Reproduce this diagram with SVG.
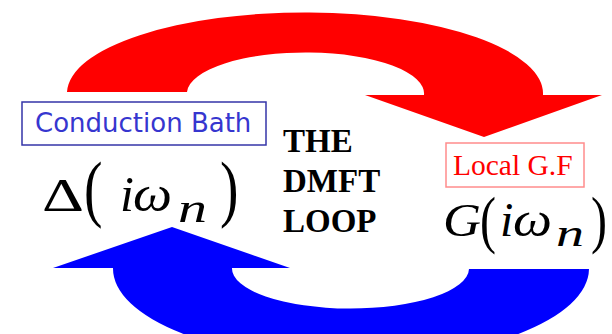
<svg xmlns="http://www.w3.org/2000/svg" width="612" height="334" viewBox="0 0 612 334">
<defs>
<style>
.box{fill:#ffffff;stroke-width:1.5}
.math{font-family:"Liberation Serif","Times New Roman",serif;fill:#000}
.it{font-style:italic}
.title{font-family:"Liberation Serif","Times New Roman",serif;font-weight:bold;font-size:33px;fill:#000}
</style>
</defs>
<rect width="612" height="334" fill="#ffffff"/>
<g id="connectors">
<path id="red-arrow" fill="#ff0000" d="M67,92 A238,81 0 0 1 543,95 L602,95 L484,137 L365,95 L424,95 A118.5,41 0 0 0 187,92 Z"/>
<path id="blue-arrow" fill="#0000ff" d="M589,269 A238,92 0 0 1 113,268 L53,268 L172,227 L290,268 L232,268 A118.5,40 0 0 0 469,269 Z"/>
</g>
<g id="conduction-bath">
<rect class="box" x="22" y="102" width="244" height="43" stroke="#3535a8"/>
<text x="35" y="132" font-family="'DejaVu Sans',Verdana,sans-serif" font-size="26" fill="#3636cf">Conduction Bath</text>
<g class="math">
<text x="42" y="211" font-size="46" textLength="42" lengthAdjust="spacingAndGlyphs">Δ</text>
<text transform="translate(84,213) scale(0.75,1)" font-size="74">(</text>
<text x="120" y="211" font-size="50" class="it">i</text>
<text x="133" y="211" font-size="50" class="it" textLength="39" lengthAdjust="spacingAndGlyphs">ω</text>
<text x="178" y="222" font-size="40" class="it" textLength="29" lengthAdjust="spacingAndGlyphs">n</text>
<text transform="translate(220,213) scale(0.75,1)" font-size="74">)</text>
</g>
</g>
<g id="dmft-loop">
<text class="title" x="283" y="152">THE</text>
<text class="title" x="283" y="192">DMFT</text>
<text class="title" x="283" y="232">LOOP</text>
</g>
<g id="local-gf">
<rect class="box" x="446" y="143" width="138" height="44" stroke="#ff8c8c"/>
<text x="453" y="175" font-family="'Liberation Serif','Times New Roman',serif" font-size="29.5" fill="#ff0000">Local G.F</text>
<g class="math">
<text x="443" y="236" font-size="46" class="it" textLength="38" lengthAdjust="spacingAndGlyphs">G</text>
<text transform="translate(480,241) scale(0.75,1)" font-size="64">(</text>
<text x="500" y="236" font-size="48" class="it">i</text>
<text x="513" y="236" font-size="48" class="it" textLength="39" lengthAdjust="spacingAndGlyphs">ω</text>
<text x="556" y="246" font-size="38" class="it" textLength="28" lengthAdjust="spacingAndGlyphs">n</text>
<text transform="translate(591,241) scale(0.75,1)" font-size="64">)</text>
</g>
</g>
</svg>
